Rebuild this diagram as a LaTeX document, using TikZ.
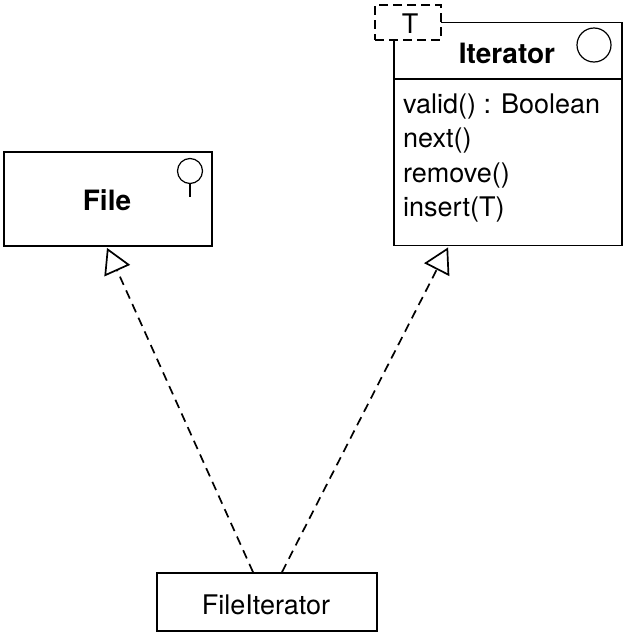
\documentclass[tikz,border=0pt]{standalone}
\usepackage{fontspec}
\setmainfont{TeX Gyre Heros}
\usetikzlibrary{arrows.meta,calc}

\begin{document}
\begin{tikzpicture}[x=1pt,y=-1pt]
	\tikzstyle{every node}+=[inner sep=0pt]
	\tikzstyle{classbox}=[draw, line width=1.8pt, rectangle]
	\tikzstyle{txt}=[font=\fontsize{27}{32}\selectfont]
	\tikzstyle{bold}=[font=\bfseries\fontsize{28}{32}\selectfont]
	\tikzstyle{realize}=[line width=1.7pt, dash pattern=on 9pt off 6pt, -{Triangle[open, length=25pt, width=28pt, line width=1.7pt]}]
	\useasboundingbox (0,0) rectangle (629,635);
	% File interface
	\node [classbox, minimum width=208pt, minimum height=94pt] (file) at (108,199) {};
	\node [bold, anchor=base] (filename) at (107,210) {File};
	\draw [line width=1.2pt] (190,171) circle (12.5);
	\draw [line width=1.2pt] (190,183.5) -- (190,197);
	% Iterator interface
	\node [classbox, minimum width=228pt, minimum height=223pt] (iter) at (508,134) {};
	\draw [line width=2pt] (iter.west |- 0,79) -- (iter.east |- 0,79);
	\node [bold, anchor=base] (itername) at (507,63) {Iterator};
	\draw [line width=1.2pt] (594,45) circle (17);
	\node [classbox, dash pattern=on 9pt off 5pt, fill=white, minimum width=66pt, minimum height=35pt] (param) at (408,22.5) {};
	\node [txt, anchor=base] (paramname) at (410,33) {T};
	\node [txt, anchor=base west] (m1) at (403,113) {valid() : Boolean};
	\node [txt, anchor=base west] (m2) at (403,147.5) {next()};
	\node [txt, anchor=base west] (m3) at (403,182) {remove()};
	\node [txt, anchor=base west] (m4) at (403,216.5) {insert(T)};
	% FileIterator class
	\node [classbox, minimum width=220pt, minimum height=58pt] (fit) at (267,602) {};
	\node [txt, anchor=base] (fitname) at (266,614) {FileIterator};
	% realizations
	\draw [realize] ($(fit.north)+(-14,0)$) -- ($(file.south)+(-1,1)$);
	\draw [realize] ($(fit.north)+(15,0)$) -- ($(iter.south west)+(55,1)$);
\end{tikzpicture}
\end{document}
